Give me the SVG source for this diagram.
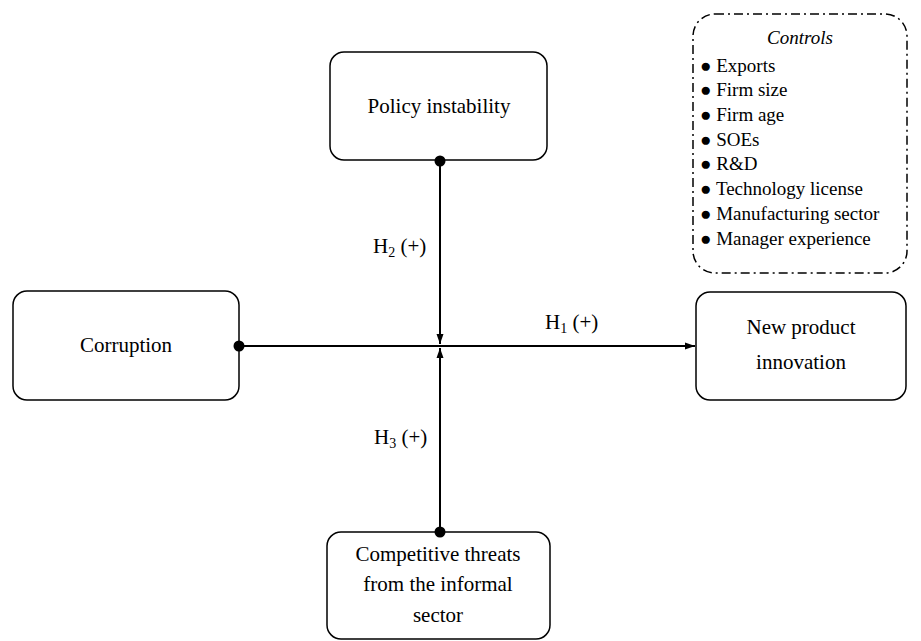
<svg xmlns="http://www.w3.org/2000/svg" width="921" height="641" viewBox="0 0 921 641">
<style>
text{font-family:"Liberation Serif","Times New Roman",serif;fill:#000}
.n{font-size:21px;text-anchor:middle}
.c{font-size:19px}
.box{fill:#fff;stroke:#000;stroke-width:1.5}
.ln{stroke:#000;stroke-width:2;fill:none}
.lbl{font-size:21px}
.sub{font-size:14px}
</style>
<defs>
<marker id="arr" viewBox="0 0 10 10" refX="10" refY="5" markerWidth="10" markerHeight="10" markerUnits="userSpaceOnUse" orient="auto">
<path d="M0,1.5 L10,5 L0,8.5 z" fill="#000"/>
</marker>
</defs>
<rect width="921" height="641" fill="#fff"/>
<g id="controls">
<rect x="693" y="14" width="214" height="259" rx="22" ry="22" fill="none" stroke="#000" stroke-width="1.5" stroke-dasharray="9,4,2,4"/>
<text x="800" y="44" class="c" text-anchor="middle" font-style="italic">Controls</text>
<g class="c">
<text x="700" y="72">● Exports</text>
<text x="700" y="96">● Firm size</text>
<text x="700" y="121">● Firm age</text>
<text x="700" y="146">● SOEs</text>
<text x="700" y="170">● R&amp;D</text>
<text x="700" y="195">● Technology license</text>
<text x="700" y="220">● Manufacturing sector</text>
<text x="700" y="245">● Manager experience</text>
</g>
</g>
<g id="policy">
<rect class="box" x="330" y="52" width="217" height="108" rx="14"/>
<text class="n" x="439" y="113">Policy instability</text>
</g>
<g id="corruption">
<rect class="box" x="13" y="291" width="226" height="109" rx="14"/>
<text class="n" x="126" y="352">Corruption</text>
</g>
<g id="npi">
<rect class="box" x="696" y="292" width="210" height="108" rx="14"/>
<text class="n" x="801" y="334">New product</text>
<text class="n" x="801" y="369">innovation</text>
</g>
<g id="threats">
<rect class="box" x="327" y="532" width="223" height="107" rx="14"/>
<text class="n" x="438" y="561">Competitive threats</text>
<text class="n" x="438" y="591">from the informal</text>
<text class="n" x="438" y="622">sector</text>
</g>
<g id="connectors">
<line class="ln" x1="239" y1="346" x2="695" y2="346" marker-end="url(#arr)"/>
<line class="ln" x1="440" y1="161" x2="440" y2="344" marker-end="url(#arr)"/>
<line class="ln" x1="440" y1="532" x2="440" y2="348" marker-end="url(#arr)"/>
<circle cx="239" cy="346" r="5.5" fill="#000"/>
<circle cx="440" cy="161" r="5.5" fill="#000"/>
<circle cx="440" cy="532" r="5.5" fill="#000"/>
<text class="lbl" x="373" y="253">H<tspan class="sub" dy="4">2</tspan><tspan dy="-4"> (+)</tspan></text>
<text class="lbl" x="545" y="329">H<tspan class="sub" dy="4">1</tspan><tspan dy="-4"> (+)</tspan></text>
<text class="lbl" x="374" y="444">H<tspan class="sub" dy="4">3</tspan><tspan dy="-4"> (+)</tspan></text>
</g>
</svg>
